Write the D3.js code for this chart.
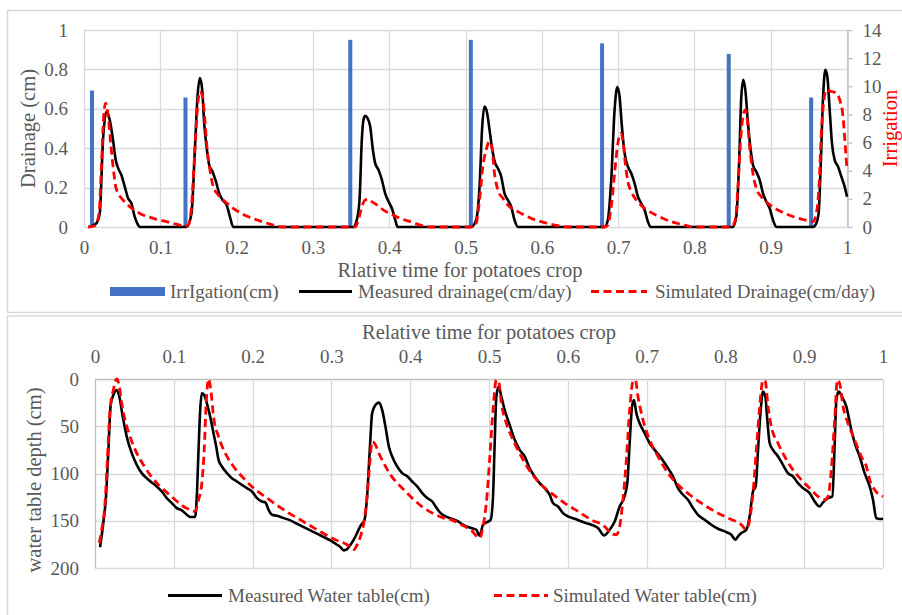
<!DOCTYPE html>
<html>
<head>
<meta charset="utf-8">
<script src="https://cdn.jsdelivr.net/npm/d3@7/dist/d3.min.js"></script>
<style>
  html, body { margin: 0; padding: 0; background: #fff; }
  svg { display: block; }
  text { font-family: "Liberation Serif", "Times New Roman", serif; fill: #595959; }
</style>
</head>
<body>
<svg id="chart" width="902" height="615"></svg>
<script>
// ---- Tick values ----
const timeTicks = [0, 0.1, 0.2, 0.3, 0.4, 0.5, 0.6, 0.7, 0.8, 0.9, 1];
const drainTicks = [0, 0.2, 0.4, 0.6, 0.8, 1];
const irrigationTicks = [0, 2, 4, 6, 8, 10, 12, 14];
const depthTicks = [0, 50, 100, 150, 200];

// ---- Irrigation events (relative time, cm) ----
const irrigationTime = [0.0105, 0.133, 0.349, 0.507, 0.679, 0.845, 0.953];
const irrigationDepth = [9.7, 9.2, 13.3, 13.3, 13.05, 12.3, 9.2];

// ---- Drainage (relative time, cm/day) ----
const drainMeasured = [
  [0.007,0],[0.0162,0.019],[0.0206,0.068],[0.0249,0.44],[0.0293,0.586],[0.0337,0.544],[0.0381,0.44],[0.0416,0.34],[0.0446,0.30],[0.049,0.264],[0.0534,0.205],[0.0578,0.146],[0.0621,0.12],[0.0665,0.051],[0.0709,0.01],[0.0731,0],
  [0.1344,0],[0.1409,0.069],[0.1453,0.39],[0.1488,0.663],[0.1519,0.756],[0.1549,0.697],[0.1575,0.527],[0.1606,0.408],[0.1641,0.315],[0.1685,0.281],[0.1729,0.231],[0.1772,0.171],[0.1816,0.137],[0.1869,0.112],[0.1912,0.053],[0.1956,0],
  [0.3532,0],[0.3575,0.036],[0.3611,0.137],[0.3641,0.442],[0.3663,0.544],[0.3685,0.564],[0.3716,0.553],[0.3751,0.51],[0.3786,0.392],[0.3816,0.324],[0.386,0.29],[0.3904,0.239],[0.3947,0.171],[0.3991,0.129],[0.4035,0.095],[0.4079,0.036],[0.411,0],
  [0.5074,0],[0.514,0.036],[0.5184,0.205],[0.5219,0.51],[0.5249,0.612],[0.5284,0.578],[0.5315,0.493],[0.5345,0.408],[0.5389,0.324],[0.5424,0.298],[0.5468,0.256],[0.5511,0.171],[0.5555,0.137],[0.5599,0.103],[0.5642,0.036],[0.5686,0],
  [0.6823,0],[0.6866,0.036],[0.691,0.239],[0.6954,0.595],[0.6989,0.71],[0.7019,0.663],[0.705,0.51],[0.7085,0.375],[0.7128,0.307],[0.7172,0.273],[0.7216,0.222],[0.726,0.154],[0.7303,0.12],[0.7347,0.086],[0.7391,0.027],[0.7426,0],
  [0.8505,0],[0.8549,0.053],[0.8584,0.307],[0.8615,0.663],[0.8641,0.747],[0.8667,0.697],[0.8702,0.527],[0.8737,0.392],[0.8768,0.315],[0.8811,0.281],[0.8855,0.239],[0.8899,0.171],[0.8942,0.129],[0.8986,0.095],[0.903,0.036],[0.9074,0],
  [0.9554,0],[0.9598,0.019],[0.9628,0.069],[0.9655,0.307],[0.9685,0.646],[0.9716,0.798],[0.9742,0.764],[0.9773,0.595],[0.9803,0.425],[0.9838,0.341],[0.9882,0.307],[0.9926,0.256],[0.9969,0.205],[1.0,0.154]
];
const drainSimulated = [
  [0.0053,0],[0.014,0.005],[0.0197,0.069],[0.0228,0.307],[0.0258,0.561],[0.0284,0.629],[0.0315,0.569],[0.035,0.425],[0.0381,0.307],[0.0416,0.205],[0.046,0.163],[0.0512,0.137],[0.06,0.103],[0.0731,0.069],[0.0906,0.044],[0.1081,0.027],[0.1256,0.01],[0.1322,0.005],
  [0.1365,0.01],[0.1409,0.103],[0.1453,0.39],[0.1488,0.61],[0.1519,0.688],[0.1554,0.663],[0.1584,0.544],[0.1615,0.39],[0.165,0.29],[0.1694,0.205],[0.1759,0.163],[0.1825,0.137],[0.1956,0.095],[0.2131,0.056],[0.2306,0.031],[0.2481,0.01],[0.2613,0],
  [0.3554,0],[0.3597,0.036],[0.3641,0.103],[0.3685,0.137],[0.3729,0.141],[0.3772,0.129],[0.3838,0.112],[0.3926,0.086],[0.4035,0.064],[0.4144,0.044],[0.4276,0.027],[0.4407,0.01],[0.4538,0],
  [0.5096,0],[0.514,0.019],[0.5184,0.137],[0.5227,0.307],[0.5271,0.392],[0.5315,0.434],[0.5345,0.408],[0.538,0.273],[0.5424,0.188],[0.549,0.146],[0.5577,0.103],[0.5686,0.078],[0.5861,0.044],[0.6036,0.022],[0.6211,0.007],[0.6342,0],
  [0.6823,0],[0.6866,0.01],[0.691,0.103],[0.6954,0.273],[0.6997,0.425],[0.7032,0.476],[0.7063,0.442],[0.7094,0.324],[0.7128,0.231],[0.7172,0.18],[0.7238,0.137],[0.7347,0.095],[0.7522,0.056],[0.7697,0.027],[0.7871,0.01],[0.8003,0],
  [0.8483,0],[0.8536,0.036],[0.8571,0.205],[0.8606,0.442],[0.8636,0.561],[0.8667,0.595],[0.8693,0.544],[0.8724,0.408],[0.8767,0.273],[0.8811,0.197],[0.8877,0.154],[0.8964,0.12],[0.9095,0.086],[0.927,0.056],[0.9445,0.036],[0.9554,0.027],[0.9598,0.069],[0.9633,0.205],[0.9663,0.476],[0.9698,0.646],[0.9729,0.697],[0.9794,0.688],[0.986,0.68],[0.9904,0.646],[0.9948,0.561],[0.9978,0.408],[1.0,0.29]
];

// ---- Water table depth (relative time, cm) ----
const wtMeasured = [
  [0.0064,178],[0.0106,152],[0.014,124],[0.017,75],[0.0199,27.5],[0.0233,17],[0.0275,11.6],[0.0309,18.7],[0.0352,39.8],[0.0403,61],[0.0466,78.5],[0.053,90.8],[0.0593,99.6],[0.0657,105],[0.072,109.5],[0.0784,113.7],[0.0847,119],[0.0911,126],[0.0975,131.3],[0.1038,136.6],[0.1102,139],[0.1165,143.7],[0.1208,146],[0.1271,146],[0.1292,124],[0.1314,75],[0.1335,32.7],[0.1356,15],[0.1386,16.9],[0.142,25.7],[0.1462,39.8],[0.1504,57.4],[0.1538,71.5],[0.1568,85.6],[0.161,92.6],[0.1674,99.6],[0.1737,105],[0.1801,108.5],[0.1864,112],[0.1928,115.5],[0.1992,119],[0.2055,126],[0.2119,129.6],[0.2161,130.6],[0.2203,138.4],[0.2246,143.7],[0.2309,144.7],[0.2394,147.2],[0.2479,149.6],[0.2564,153.2],[0.2648,156.7],[0.2733,160.2],[0.2818,163.7],[0.2903,167.3],[0.2987,170.8],[0.3072,175.4],[0.3114,177.8],[0.3157,181.3],[0.3199,180],[0.3242,175.4],[0.3284,170],[0.3326,163],[0.3369,155.3],[0.342,149],[0.3453,124.3],[0.3487,75],[0.3517,36.3],[0.3559,27.5],[0.3602,25],[0.3644,32.7],[0.3686,50.4],[0.3729,71.5],[0.3771,82],[0.3835,92.6],[0.3898,99.6],[0.3962,103],[0.4025,108.5],[0.4089,113.7],[0.4153,120.8],[0.4216,126],[0.428,129.6],[0.4322,134.9],[0.4386,142],[0.4449,145.4],[0.4525,147.9],[0.4607,150.7],[0.4691,155.3],[0.4776,157.7],[0.4839,159.5],[0.4882,165.8],[0.4924,154.2],[0.4966,151.8],[0.5021,149],[0.5051,124.3],[0.5072,68],[0.5093,18.7],[0.5123,8],[0.5157,18.7],[0.5199,32.7],[0.5262,48.6],[0.5326,64.4],[0.5389,75],[0.5453,82],[0.5516,94.4],[0.5579,103.2],[0.5643,110.2],[0.5706,115.5],[0.577,122.5],[0.5812,131.3],[0.5876,134.9],[0.5939,142],[0.6003,145.4],[0.6087,147.9],[0.6193,151.4],[0.6299,154.2],[0.6383,157.7],[0.6459,165.5],[0.6531,159.5],[0.6595,150.7],[0.6658,134.9],[0.6713,126],[0.6755,110.2],[0.6785,68],[0.6815,29.2],[0.684,22.2],[0.687,36.3],[0.6912,46.8],[0.6975,57.4],[0.7039,68],[0.7102,75],[0.7187,83.8],[0.7272,94.4],[0.7335,103.2],[0.7398,115.5],[0.7462,122.5],[0.7525,127.8],[0.7589,136.6],[0.7652,143.7],[0.7737,149],[0.7821,154.2],[0.7906,158.5],[0.7991,161.3],[0.8075,164.8],[0.8126,170],[0.816,166.5],[0.8202,163],[0.8266,159.5],[0.8308,145.4],[0.835,119],[0.8384,113.7],[0.8414,75],[0.8448,32.7],[0.8477,13.4],[0.8507,18.7],[0.8532,43.3],[0.8562,68],[0.8604,75],[0.8668,82],[0.8731,90.8],[0.8794,99.6],[0.8858,103.2],[0.8921,110.2],[0.8985,115.5],[0.9069,120.8],[0.9133,129.6],[0.9196,134.9],[0.9239,130.6],[0.9302,126],[0.9357,124.3],[0.9387,68],[0.9408,22.2],[0.9437,13.4],[0.948,18.7],[0.9535,29.2],[0.9598,53.9],[0.9649,69.7],[0.9704,82],[0.9767,99.6],[0.9831,113.7],[0.9873,127.8],[0.9915,147.2],[0.9958,148.2],[1.0,147.9]
];
const wtSimulated = [
  [0.0055,173.6],[0.0085,159.5],[0.0127,131.3],[0.0157,85.6],[0.0191,32.7],[0.0233,11.6],[0.0275,0],[0.0309,8],[0.0339,25.7],[0.0381,43.3],[0.0445,61],[0.053,78.5],[0.0614,90.8],[0.0699,101.4],[0.0805,112],[0.0911,120],[0.1017,127.8],[0.1123,134.9],[0.1208,138.4],[0.1271,140.1],[0.1314,127.8],[0.1356,110.2],[0.1386,75],[0.1411,25.7],[0.1441,0],[0.147,11.6],[0.1504,39.8],[0.1568,61],[0.1653,78.5],[0.1758,92.6],[0.1886,105],[0.2013,115.5],[0.2182,126],[0.2394,138.4],[0.2606,149],[0.2818,159.5],[0.303,169.4],[0.32,175.4],[0.3284,180.6],[0.3326,175.4],[0.3369,166.5],[0.3411,152.5],[0.3453,124.3],[0.3487,89],[0.3517,66.2],[0.3559,69.7],[0.3602,78.5],[0.3665,89],[0.375,101.4],[0.3835,110.2],[0.3941,119],[0.4047,127.8],[0.4174,136.6],[0.4301,142.6],[0.4428,147.2],[0.4525,149],[0.4649,154.2],[0.4776,160.2],[0.4882,168.3],[0.4924,156],[0.4966,131.3],[0.5008,85.6],[0.5051,32.7],[0.5093,1],[0.5123,2.8],[0.5157,25.7],[0.522,46.8],[0.5305,64.4],[0.541,82],[0.5537,99.6],[0.5664,112],[0.5791,120.8],[0.596,131.3],[0.6129,140.1],[0.6299,149],[0.6468,156],[0.6552,163.7],[0.6616,164.8],[0.6658,156],[0.67,127.8],[0.6743,85.6],[0.6785,32.7],[0.6827,2.8],[0.6857,1],[0.6891,18.7],[0.6954,43.3],[0.7039,64.4],[0.7145,82],[0.7272,99.6],[0.7398,112],[0.7547,122.5],[0.7695,131.3],[0.7864,140.1],[0.8033,147.2],[0.8202,154.2],[0.8266,159.5],[0.8308,149],[0.835,120.8],[0.8393,75],[0.8435,29.2],[0.8477,1],[0.8507,2.8],[0.8541,29.2],[0.8583,50.4],[0.8668,68],[0.8752,82],[0.8858,96.1],[0.8964,106.7],[0.909,117.3],[0.9175,124.3],[0.9256,127.8],[0.9302,124.3],[0.9344,96.1],[0.9387,43.3],[0.9421,1],[0.945,4.6],[0.9493,29.2],[0.9556,46.8],[0.964,64.4],[0.9725,82],[0.9789,92.6],[0.9831,106.7],[0.9894,117.3],[1.0,124.3]
];

// ---- Styling ----
const GRID = "#d9d9d9", AXIS = "#bfbfbf", TEXT = "#595959";
const BLUE = "#4472c4", RED = "#ff0000", BLACK = "#000000";
const TICK_FONT = 19, TITLE_FONT = 20.5, LEGEND_FONT = 19;
const SERIF = '"Liberation Serif", "Times New Roman", serif';
const DASH = "8,4.5";

const svg = d3.select("#chart");
svg.append("rect").attr("width", 902).attr("height", 615).attr("fill", "#fff");

// Panel frames
svg.append("rect").attr("x", 7.5).attr("y", 10.5).attr("width", 900).attr("height", 302)
  .attr("fill", "none").attr("stroke", GRID).attr("stroke-width", 1.5);
svg.append("rect").attr("x", 7.5).attr("y", 316).attr("width", 900).attr("height", 310)
  .attr("fill", "none").attr("stroke", GRID).attr("stroke-width", 1.5);

function styleAxis(g, size) {
  g.select(".domain").remove();
  g.selectAll("text").attr("fill", TEXT).style("font-size", size + "px").style("font-family", SERIF);
  g.selectAll(".tick line").attr("stroke", AXIS);
}
const fmt = d => String(d);

// ================= Top panel: drainage & irrigation =================
const xTop = d3.scaleLinear().domain([0, 1]).range([84, 847]);
const yDrain = d3.scaleLinear().domain([0, 1]).range([227, 30]);
const yIrr = d3.scaleLinear().domain([0, 14]).range([227, 30]);

const drainPanel = svg.append("g");
// gridlines
drainPanel.append("g").selectAll("line").data(drainTicks).join("line")
  .attr("x1", xTop(0)).attr("x2", xTop(1))
  .attr("y1", d => Math.round(yDrain(d)) + 0.5).attr("y2", d => Math.round(yDrain(d)) + 0.5)
  .attr("stroke", GRID).attr("stroke-width", 1.3);
drainPanel.append("g").selectAll("line").data(timeTicks).join("line")
  .attr("x1", d => Math.round(xTop(d)) + 0.5).attr("x2", d => Math.round(xTop(d)) + 0.5)
  .attr("y1", yDrain(0)).attr("y2", yDrain(1))
  .attr("stroke", GRID).attr("stroke-width", 1.3);

// axes
drainPanel.append("g").attr("transform", `translate(0,${yDrain(0)})`)
  .call(d3.axisBottom(xTop).tickValues(timeTicks).tickFormat(fmt).tickSize(0).tickPadding(14))
  .call(g => styleAxis(g, TICK_FONT));
drainPanel.append("g").attr("transform", `translate(${xTop(0)},0)`)
  .call(d3.axisLeft(yDrain).tickValues(drainTicks).tickFormat(fmt).tickSize(0).tickPadding(16))
  .call(g => styleAxis(g, TICK_FONT));
const rightAxis = drainPanel.append("g").attr("transform", `translate(${Math.round(xTop(1)) + 0.5},0)`)
  .call(d3.axisRight(yIrr).tickValues(irrigationTicks).tickFormat(fmt).tickSize(5).tickSizeOuter(0).tickPadding(10));
rightAxis.selectAll("text").attr("fill", TEXT).style("font-size", TICK_FONT + "px").style("font-family", SERIF);
rightAxis.selectAll(".tick line").attr("stroke", AXIS).attr("stroke-width", 1.3);
rightAxis.select(".domain").attr("stroke", AXIS).attr("stroke-width", 1.3);

// irrigation bars
const barW = 4;
drainPanel.append("g").selectAll("rect").data(irrigationTime.map((t, i) => [t, irrigationDepth[i]])).join("rect")
  .attr("x", d => xTop(d[0]) - barW / 2).attr("width", barW)
  .attr("y", d => yIrr(d[1])).attr("height", d => yIrr(0) - yIrr(d[1]))
  .attr("fill", BLUE);

const drainLine = d3.line().x(d => xTop(d[0])).y(d => yDrain(d[1])).curve(d3.curveMonotoneX);
drainPanel.append("path").datum(drainMeasured).attr("d", drainLine)
  .attr("fill", "none").attr("stroke", BLACK).attr("stroke-width", 2.6).attr("stroke-linejoin", "round");
drainPanel.append("path").datum(drainSimulated).attr("d", drainLine)
  .attr("fill", "none").attr("stroke", RED).attr("stroke-width", 2.8).attr("stroke-dasharray", DASH);

// titles
drainPanel.append("text").attr("transform", `translate(35,${(yDrain(0) + yDrain(1)) / 2}) rotate(-90)`)
  .attr("text-anchor", "middle").style("font-size", TITLE_FONT + "px").text("Drainage (cm)");
drainPanel.append("text").attr("transform", `translate(896.5,${(yIrr(0) + yIrr(14)) / 2}) rotate(-90)`)
  .attr("text-anchor", "middle").style("font-size", TITLE_FONT + "px").style("fill", RED).text("Irrigation");
drainPanel.append("text").attr("x", 460).attr("y", 276.5).attr("text-anchor", "middle")
  .style("font-size", TITLE_FONT + "px").text("Rlative time for potatoes crop");

// legend
const legTop = drainPanel.append("g");
legTop.append("rect").attr("x", 110).attr("y", 287).attr("width", 55).attr("height", 9).attr("fill", BLUE);
legTop.append("text").attr("x", 170).attr("y", 298).style("font-size", LEGEND_FONT + "px").text("IrrIgation(cm)");
legTop.append("line").attr("x1", 299).attr("x2", 352).attr("y1", 291.5).attr("y2", 291.5)
  .attr("stroke", BLACK).attr("stroke-width", 3);
legTop.append("text").attr("x", 358).attr("y", 298).style("font-size", LEGEND_FONT + "px").text("Measured drainage(cm/day)");
legTop.append("line").attr("x1", 591).attr("x2", 647).attr("y1", 291.5).attr("y2", 291.5)
  .attr("stroke", RED).attr("stroke-width", 3).attr("stroke-dasharray", DASH);
legTop.append("text").attr("x", 655).attr("y", 298).style("font-size", LEGEND_FONT + "px").text("Simulated Drainage(cm/day)");

// ================= Bottom panel: water table depth =================
const xBot = d3.scaleLinear().domain([0, 1]).range([95, 883]);
const yDepth = d3.scaleLinear().domain([0, 200]).range([379, 568]);

const wtPanel = svg.append("g");
wtPanel.append("g").selectAll("line").data(depthTicks).join("line")
  .attr("x1", xBot(0)).attr("x2", xBot(1))
  .attr("y1", d => Math.round(yDepth(d)) + 0.5).attr("y2", d => Math.round(yDepth(d)) + 0.5)
  .attr("stroke", d => d === 0 ? AXIS : GRID).attr("stroke-width", 1.3);
wtPanel.append("g").selectAll("line").data(timeTicks).join("line")
  .attr("x1", d => Math.round(xBot(d)) + 0.5).attr("x2", d => Math.round(xBot(d)) + 0.5)
  .attr("y1", yDepth(0)).attr("y2", yDepth(200))
  .attr("stroke", d => d === 0 ? AXIS : GRID).attr("stroke-width", 1.3);

wtPanel.append("g").attr("transform", `translate(0,${yDepth(0)})`)
  .call(d3.axisTop(xBot).tickValues(timeTicks).tickFormat(fmt).tickSize(0).tickPadding(16))
  .call(g => styleAxis(g, TICK_FONT));
wtPanel.append("g").attr("transform", `translate(${xBot(0)},0)`)
  .call(d3.axisLeft(yDepth).tickValues(depthTicks).tickFormat(fmt).tickSize(0).tickPadding(16))
  .call(g => styleAxis(g, TICK_FONT));

const wtLine = d3.line().x(d => xBot(d[0])).y(d => yDepth(d[1])).curve(d3.curveMonotoneX);
wtPanel.append("path").datum(wtMeasured).attr("d", wtLine)
  .attr("fill", "none").attr("stroke", BLACK).attr("stroke-width", 2.6).attr("stroke-linejoin", "round");
wtPanel.append("path").datum(wtSimulated).attr("d", wtLine)
  .attr("fill", "none").attr("stroke", RED).attr("stroke-width", 2.8).attr("stroke-dasharray", DASH);

wtPanel.append("text").attr("x", (xBot(0) + xBot(1)) / 2).attr("y", 339).attr("text-anchor", "middle")
  .style("font-size", TITLE_FONT + "px").text("Relative time for potatoes crop");
wtPanel.append("text").attr("transform", `translate(41,480) rotate(-90)`)
  .attr("text-anchor", "middle").style("font-size", TITLE_FONT + "px").text("water table depth (cm)");

const legBot = wtPanel.append("g");
legBot.append("line").attr("x1", 168).attr("x2", 222).attr("y1", 595.5).attr("y2", 595.5)
  .attr("stroke", BLACK).attr("stroke-width", 3);
legBot.append("text").attr("x", 228).attr("y", 602).style("font-size", LEGEND_FONT + "px").text("Measured Water table(cm)");
legBot.append("line").attr("x1", 494).attr("x2", 548).attr("y1", 595.5).attr("y2", 595.5)
  .attr("stroke", RED).attr("stroke-width", 3).attr("stroke-dasharray", DASH);
legBot.append("text").attr("x", 553).attr("y", 602).style("font-size", LEGEND_FONT + "px").text("Simulated Water table(cm)");
</script>
</body>
</html>
